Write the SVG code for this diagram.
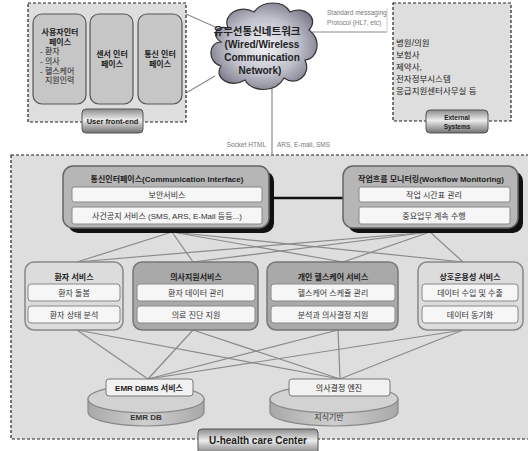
<svg xmlns="http://www.w3.org/2000/svg" width="528" height="451" viewBox="0 0 528 451">
<defs>
<linearGradient id="metal" x1="0" y1="0" x2="0" y2="1">
<stop offset="0" stop-color="#8c8c8c"/>
<stop offset="0.45" stop-color="#ececec"/>
<stop offset="1" stop-color="#707070"/>
</linearGradient>
<radialGradient id="cloudg" cx="0.5" cy="0.5" r="0.6">
<stop offset="0" stop-color="#f2f2f6"/>
<stop offset="0.55" stop-color="#c0c0cc"/>
<stop offset="1" stop-color="#6c6c7c"/>
</radialGradient>
<linearGradient id="cyl" x1="0" y1="0" x2="1" y2="0">
<stop offset="0" stop-color="#a8a8a8"/>
<stop offset="0.5" stop-color="#cfcfcf"/>
<stop offset="1" stop-color="#a8a8a8"/>
</linearGradient>
</defs>
<style>
text{font-family:"Liberation Sans","Noto Sans CJK KR",sans-serif;fill:#222;}
.c{text-anchor:middle;}
.b{font-weight:bold;}
.dash{fill:#dedede;stroke:#222;stroke-width:1.2;stroke-dasharray:3,2;}
.inner{fill:#c6c6c6;stroke:#555;stroke-width:1.2;}
.label{fill:url(#metal);stroke:#555;stroke-width:1;}
.small{font-size:6.5px;fill:#777;}
.big{fill:#b6b6b6;stroke:#666;stroke-width:1.5;}
.shadow{fill:#111;}
.row{fill:#f6f6f6;stroke:#888;stroke-width:1;}
.rt{font-size:8px;fill:#333;}
.mid1{fill:#dcdcdc;stroke:#888;stroke-width:1.5;}
.mid2{fill:#a9a9a9;stroke:#777;stroke-width:1.5;}
.ln{stroke:#8a8a8a;stroke-width:1.2;fill:none;}
.cylb{fill:url(#cyl);stroke:#888;stroke-width:1.2;}
.cylt{fill:#d2d2d2;stroke:#888;stroke-width:1.2;}
</style>

<!-- containers -->
<g id="main-center">
<rect class="dash" x="11" y="155" width="530" height="284"/>
</g>

<g id="connectors">
<line class="ln" x1="186" y1="14" x2="222" y2="30"/>
<line class="ln" x1="186" y1="93" x2="215" y2="76"/>
<line class="ln" x1="272" y1="88" x2="272" y2="155"/>
<line class="ln" x1="312" y1="32" x2="387" y2="32"/>
<line stroke="#ccc" stroke-width="1" x1="387" y1="8" x2="387" y2="32"/>
<line stroke="#111" stroke-width="2.5" x1="273" y1="198" x2="343" y2="198"/>
<line class="ln" x1="172" y1="232" x2="77" y2="262"/>
<line class="ln" x1="172" y1="232" x2="193" y2="262"/>
<line class="ln" x1="172" y1="232" x2="343" y2="262"/>
<line class="ln" x1="172" y1="232" x2="463" y2="262"/>
<line class="ln" x1="430" y1="232" x2="77" y2="262"/>
<line class="ln" x1="430" y1="232" x2="193" y2="262"/>
<line class="ln" x1="430" y1="232" x2="343" y2="262"/>
<line class="ln" x1="430" y1="232" x2="463" y2="262"/>
<line class="ln" x1="77" y1="330" x2="148" y2="379"/>
<line class="ln" x1="77" y1="330" x2="340" y2="379"/>
<line class="ln" x1="193" y1="330" x2="148" y2="379"/>
<line class="ln" x1="193" y1="330" x2="340" y2="379"/>
<line class="ln" x1="338" y1="330" x2="148" y2="379"/>
<line class="ln" x1="338" y1="330" x2="340" y2="379"/>
<line class="ln" x1="463" y1="330" x2="148" y2="379"/>
<line class="ln" x1="463" y1="330" x2="340" y2="379"/>
</g>

<g id="user-frontend">
<rect class="dash" x="28" y="3" width="158" height="119"/>
<rect class="inner" x="33" y="14" width="53" height="90" rx="9"/>
<rect class="inner" x="90" y="14" width="43" height="90" rx="9"/>
<rect class="inner" x="138" y="14" width="44" height="90" rx="9"/>
<text class="c b" x="60" y="35" font-size="8">사용자인터</text>
<text class="c b" x="60" y="45" font-size="8">페이스</text>
<text x="40" y="54" font-size="8">- 환자</text>
<text x="40" y="64" font-size="8">- 의사</text>
<text x="40" y="74" font-size="8">- 헬스케어</text>
<text x="45" y="83" font-size="8">지원인력</text>
<text class="c b" x="112" y="57" font-size="8">센서 인터</text>
<text class="c b" x="112" y="67" font-size="8">페이스</text>
<text class="c b" x="160" y="57" font-size="8">통신 인터</text>
<text class="c b" x="160" y="67" font-size="8">페이스</text>
<rect class="label" x="82" y="109" width="61" height="24" rx="4"/>
<text class="c b" x="112.5" y="124" font-size="7.5">User front-end</text>
</g>

<g id="network-cloud">
<path d="M228,28 C222,14 240,4 254,12 C262,0 284,0 290,12 C304,5 320,18 309,30 C322,40 318,59 305,60 C312,75 296,87 284,78 C276,93 252,93 245,80 C231,89 213,78 221,66 C207,62 208,42 221,42 C211,35 216,25 228,28 Z" fill="url(#cloudg)" stroke="#333" stroke-width="1.2"/>
<text class="c b" x="257" y="35" font-size="10.5">유무선통신네트워크</text>
<text class="c b" x="262" y="48" font-size="10">(Wired/Wireless</text>
<text class="c b" x="262" y="61" font-size="10">Communication</text>
<text class="c b" x="260" y="74" font-size="10">Network)</text>
</g>

<g id="protocol-labels">
<text class="small" x="327" y="15">Standard messaging</text>
<text class="small" x="327" y="25">Protocol (HL7, etc)</text>
<text class="small" x="266" y="147" text-anchor="end">Socket HTML</text>
<text class="small" x="277" y="147">ARS, E-mail, SMS</text>
</g>

<g id="external-systems">
<rect class="dash" x="393" y="3" width="118" height="118"/>
<text x="396" y="46" font-size="8.5">병원/의원</text>
<text x="396" y="58" font-size="8.5">보험사</text>
<text x="396" y="70" font-size="8.5">제약사,</text>
<text x="396" y="82" font-size="8.5">전자정부시스템</text>
<text x="396" y="94" font-size="8.5">응급지원센터사무실 등</text>
<rect class="label" x="426" y="110" width="62" height="23" rx="4"/>
<text class="c b" x="457" y="120" font-size="6.5">External</text>
<text class="c b" x="457" y="129" font-size="6.5">Systems</text>
</g>

<g id="comm-interface">
<rect class="shadow" x="68" y="171" width="206" height="62" rx="10"/>
<rect class="big" x="63" y="166" width="206" height="62" rx="10"/>
<text class="c b" x="167" y="182" font-size="8">통신인터페이스(Communication  Interface)</text>
<rect class="row" x="72" y="187" width="190" height="15" rx="2"/>
<text class="c rt" x="167" y="198">보안서비스</text>
<rect class="row" x="72" y="207" width="190" height="17" rx="2"/>
<text class="c rt" x="167" y="219" font-size="7.5">사건공지 서비스 (SMS, ARS, E-Mail 등등...)</text>
</g>

<g id="workflow-monitoring">
<rect class="shadow" x="348" y="171" width="175" height="62" rx="10"/>
<rect class="big" x="343" y="166" width="175" height="62" rx="10"/>
<text class="c b" x="431" y="182" font-size="8">작업흐름 모니터링(Workflow  Monitoring)</text>
<rect class="row" x="359" y="187" width="151" height="15" rx="2"/>
<text class="c rt" x="434" y="198">작업 시간표 관리</text>
<rect class="row" x="359" y="207" width="151" height="17" rx="2"/>
<text class="c rt" x="434" y="219">중요업무 계속 수행</text>
</g>

<g id="patient-service">
<rect class="mid1" x="25" y="262" width="98" height="68" rx="9"/>
<text class="c b" x="74" y="280" font-size="8">환자 서비스</text>
<rect class="row" x="28" y="284" width="92" height="17" rx="3"/>
<text class="c rt" x="74" y="296">환자 돌봄</text>
<rect class="row" x="28" y="306" width="92" height="17" rx="3"/>
<text class="c rt" x="74" y="318">환자 상태 분석</text>
</g>

<g id="doctor-support">
<rect class="mid2" x="133" y="262" width="125" height="68" rx="9"/>
<text class="c b" x="196" y="280" font-size="8">의사지원서비스</text>
<rect class="row" x="137" y="284" width="118" height="17" rx="3"/>
<text class="c rt" x="196" y="296">환자 데이터 관리</text>
<rect class="row" x="137" y="306" width="118" height="17" rx="3"/>
<text class="c rt" x="196" y="318">의료 진단 지원</text>
</g>

<g id="personal-healthcare">
<rect class="mid2" x="267" y="262" width="131" height="68" rx="9"/>
<text class="c b" x="333" y="280" font-size="8">개인 헬스케어 서비스</text>
<rect class="row" x="271" y="284" width="124" height="17" rx="3"/>
<text class="c rt" x="333" y="296">헬스케어 스케쥴 관리</text>
<rect class="row" x="271" y="306" width="124" height="17" rx="3"/>
<text class="c rt" x="333" y="318">분석과 의사결정 지원</text>
</g>

<g id="interoperability">
<rect class="mid1" x="418" y="262" width="105" height="68" rx="9"/>
<text class="c b" x="470" y="280" font-size="8">상호운용성 서비스</text>
<rect class="row" x="422" y="284" width="96" height="17" rx="3"/>
<text class="c rt" x="470" y="296">데이터 수입 및 수출</text>
<rect class="row" x="422" y="306" width="96" height="17" rx="3"/>
<text class="c rt" x="470" y="318">데이터 동기화</text>
</g>

<g id="emr-db">
<path class="cylb" d="M88,399 L88,412 A58,14 0 0 0 204,412 L204,399 Z"/>
<ellipse class="cylt" cx="146" cy="399" rx="58" ry="14"/>
<text class="c b" x="146" y="420" font-size="8" style="fill:#333">EMR DB</text>
<rect class="row" x="106" y="379" width="87" height="17" rx="3" style="fill:#f2f2f2;stroke:#777"/>
<text class="c b" x="149" y="391" font-size="8">EMR DBMS 서비스</text>
</g>

<g id="knowledge-base">
<path class="cylb" d="M270,399 L270,412 A64,14 0 0 0 398,412 L398,399 Z"/>
<ellipse class="cylt" cx="334" cy="399" rx="64" ry="14"/>
<text class="c" x="329" y="420" font-size="8" style="fill:#333">지식기반</text>
<rect class="row" x="289" y="379" width="101" height="17" rx="3" style="fill:#f2f2f2;stroke:#777"/>
<text class="c" x="339" y="391" font-size="8">의사결정 엔진</text>
</g>

<g id="center-label">
<rect class="label" x="198" y="429" width="120" height="26" rx="4"/>
<text class="c b" x="258" y="444" font-size="10">U-health care Center</text>
</g>
</svg>
